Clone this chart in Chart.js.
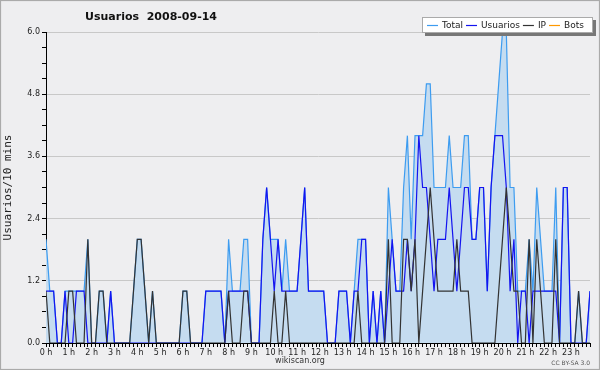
<!DOCTYPE html>
<html>
<head>
<meta charset="utf-8">
<script src="https://cdn.jsdelivr.net/npm/chart.js@4/dist/chart.umd.min.js"></script>
<style>
  html, body { margin: 0; padding: 0; background: #eeeef0; }
</style>
</head>
<body>
<canvas id="chart" width="600" height="370"></canvas>
<script>
const chartTitle = "Usuarios  2008-09-14";
const yTitle = "Usuarios/10 mins";
const footer = "wikiscan.org";
const licence = "CC BY-SA 3.0";

// one tick label per hour, the data has one value every 10 minutes
const hourLabels = ["0 h", "1 h", "2 h", "3 h", "4 h", "5 h", "6 h", "7 h", "8 h", "9 h", "10 h", "11 h",
    "12 h", "13 h", "14 h", "15 h", "16 h", "17 h", "18 h", "19 h", "20 h", "21 h", "22 h", "23 h"];

const total = [
    2, 1, 1, 0, 0, 1, 1, 1, 1, 1,  1, 2, 0, 0, 1, 1, 0, 1, 0, 0,
    0, 0, 0, 1, 2, 2, 1, 0, 1, 0,  0, 0, 0, 0, 0, 0, 1, 1, 0, 0,
    0, 0, 1, 1, 1, 1, 1, 0, 2, 1,  1, 1, 2, 2, 0, 0, 0, 2, 3, 2,
    2, 2, 1, 2, 1, 1, 1, 2, 3, 1,  1, 1, 1, 1, 0, 0, 0, 1, 1, 1,
    0, 1, 2, 2, 2, 0, 1, 0, 1, 0,  3, 2, 1, 1, 3, 4, 2, 4, 4, 4,
    5, 5, 3, 3, 3, 3, 4, 3, 3, 3,  4, 4, 2, 2, 3, 3, 1, 3, 4, 5,
    6, 6, 3, 3, 1, 1, 1, 2, 1, 3,  2, 1, 1, 1, 3, 0, 3, 3, 0, 0,
    1, 0, 0, 1
];
const usuarios = [
    1, 1, 1, 0, 0, 1, 0, 0, 1, 1,  1, 0, 0, 0, 0, 0, 0, 1, 0, 0,
    0, 0, 0, 0, 0, 0, 0, 0, 0, 0,  0, 0, 0, 0, 0, 0, 0, 0, 0, 0,
    0, 0, 1, 1, 1, 1, 1, 0, 1, 1,  1, 1, 1, 1, 0, 0, 0, 2, 3, 2,
    1, 2, 1, 1, 1, 1, 1, 2, 3, 1,  1, 1, 1, 1, 0, 0, 0, 1, 1, 1,
    0, 1, 1, 2, 2, 0, 1, 0, 1, 0,  1, 2, 1, 1, 1, 2, 1, 2, 4, 3,
    3, 2, 1, 2, 2, 2, 3, 2, 1, 2,  3, 3, 2, 2, 3, 3, 1, 3, 4, 4,
    4, 3, 1, 2, 0, 1, 1, 0, 1, 1,  1, 1, 1, 1, 1, 0, 3, 3, 0, 0,
    0, 0, 0, 1
];
const ip = [
    1, 0, 0, 0, 0, 0, 1, 1, 0, 0,  0, 2, 0, 0, 1, 1, 0, 0, 0, 0,
    0, 0, 0, 1, 2, 2, 1, 0, 1, 0,  0, 0, 0, 0, 0, 0, 1, 1, 0, 0,
    0, 0, 0, 0, 0, 0, 0, 0, 1, 0,  0, 0, 1, 1, 0, 0, 0, 0, 0, 0,
    1, 0, 0, 1, 0, 0, 0, 0, 0, 0,  0, 0, 0, 0, 0, 0, 0, 0, 0, 0,
    0, 0, 1, 0, 0, 0, 0, 0, 0, 0,  2, 0, 0, 0, 2, 2, 1, 2, 0, 1,
    2, 3, 2, 1, 1, 1, 1, 1, 2, 1,  1, 1, 0, 0, 0, 0, 0, 0, 0, 1,
    2, 3, 2, 1, 1, 0, 0, 2, 0, 2,  1, 0, 0, 0, 2, 0, 0, 0, 0, 0,
    1, 0, 0, 0
];
const bots = []; // nothing drawn for bots that day

const toPoints = arr => arr.map((v, i) => ({ x: i, y: v }));
const isMajor = v => Math.abs(v / 1.2 - Math.round(v / 1.2)) < 1e-6;
const smallFont = { family: "DejaVu Sans", size: 8 };

// background, title, boxed legend and the footer texts
const decorations = {
    id: "decorations",
    beforeDraw(chart) {
        const c = chart.ctx;
        c.save();
        c.fillStyle = "#eeeef0";
        c.fillRect(0, 0, chart.width, chart.height);
        c.restore();
    },
    afterDraw(chart) {
        const c = chart.ctx;
        c.save();

        c.fillStyle = "#111";
        c.font = "bold 11px 'DejaVu Sans'";
        c.textAlign = "center";
        c.textBaseline = "middle";
        c.fillText(chartTitle, 151, 17);

        // legend box with shadow
        c.fillStyle = "#777";
        c.fillRect(425, 20, 171, 16);
        c.fillStyle = "#fff";
        c.fillRect(422, 17, 171, 16);
        c.strokeStyle = "#aaa";
        c.lineWidth = 1;
        c.strokeRect(422.5, 17.5, 170, 15);

        c.font = "9px 'DejaVu Sans'";
        c.textAlign = "left";
        let x = 427;
        chart.data.datasets.forEach(ds => {
            c.strokeStyle = ds.borderColor;
            c.lineWidth = 1.2;
            c.beginPath();
            c.moveTo(x, 25.5);
            c.lineTo(x + 11, 25.5);
            c.stroke();
            x += 15;
            c.fillStyle = "#222";
            c.fillText(ds.label, x, 25.5);
            x += c.measureText(ds.label).width + 3;
        });

        c.fillStyle = "#333";
        c.textAlign = "center";
        c.font = "8px 'DejaVu Sans'";
        c.fillText(footer, 300, 361);
        c.textAlign = "right";
        c.fillStyle = "#555";
        c.font = "6px 'DejaVu Sans'";
        c.fillText(licence, 590, 363);

        c.strokeStyle = "#aaa";
        c.strokeRect(0.5, 0.5, chart.width - 1, chart.height - 1);
        c.restore();
    }
};

const ctx = document.getElementById("chart").getContext("2d");
new Chart(ctx, {
    type: "line",
    data: {
        datasets: [
            { label: "Total", data: toPoints(total), borderColor: "#3d9cf0", backgroundColor: "#c5dcf0", fill: "origin", order: 3 },
            { label: "Usuarios", data: toPoints(usuarios), borderColor: "#1414f0", fill: false, order: 2 },
            { label: "IP", data: toPoints(ip), borderColor: "#333333", fill: false, order: 1 },
            { label: "Bots", data: toPoints(bots), borderColor: "#ff9900", fill: false, order: 0 },
        ],
    },
    options: {
        responsive: false,
        animation: false,
        devicePixelRatio: 1,
        layout: { padding: { top: 32, right: 10, left: 0, bottom: 0 } },
        elements: {
            line: { borderWidth: 1.2, tension: 0 },
            point: { radius: 0 },
        },
        plugins: {
            legend: { display: false },
            title: { display: false },
            tooltip: { enabled: false },
        },
        scales: {
            x: {
                type: "linear",
                min: 0,
                max: 143,
                grid: { drawOnChartArea: false, drawTicks: true, tickLength: 4, tickColor: "#000" },
                border: { display: true, color: "#000", width: 1 },
                ticks: {
                    stepSize: 1,
                    autoSkip: false,
                    maxRotation: 0,
                    minRotation: 0,
                    padding: 1,
                    color: "#222",
                    font: smallFont,
                    callback: v => (v % 6 === 0 ? hourLabels[v / 6] : ""),
                },
                afterFit: s => { s.height = 27; },
            },
            y: {
                min: 0,
                max: 6,
                grid: {
                    color: c => (isMajor(c.tick.value) ? "#c8c8c8" : "rgba(0,0,0,0)"),
                    tickColor: "#000",
                    tickLength: 4,
                },
                border: { display: true, color: "#000", width: 1 },
                ticks: {
                    stepSize: 0.3,
                    autoSkip: false,
                    padding: 2,
                    color: "#222",
                    font: smallFont,
                    callback: v => (isMajor(v) ? v.toFixed(1) : ""),
                },
                title: {
                    display: true,
                    text: yTitle,
                    color: "#222",
                    font: { family: "DejaVu Sans Mono", size: 11 },
                    padding: { top: 2, bottom: 0 },
                },
                afterFit: s => { s.width = 46; },
            },
        },
    },
    plugins: [decorations],
});
</script>
</body>
</html>
